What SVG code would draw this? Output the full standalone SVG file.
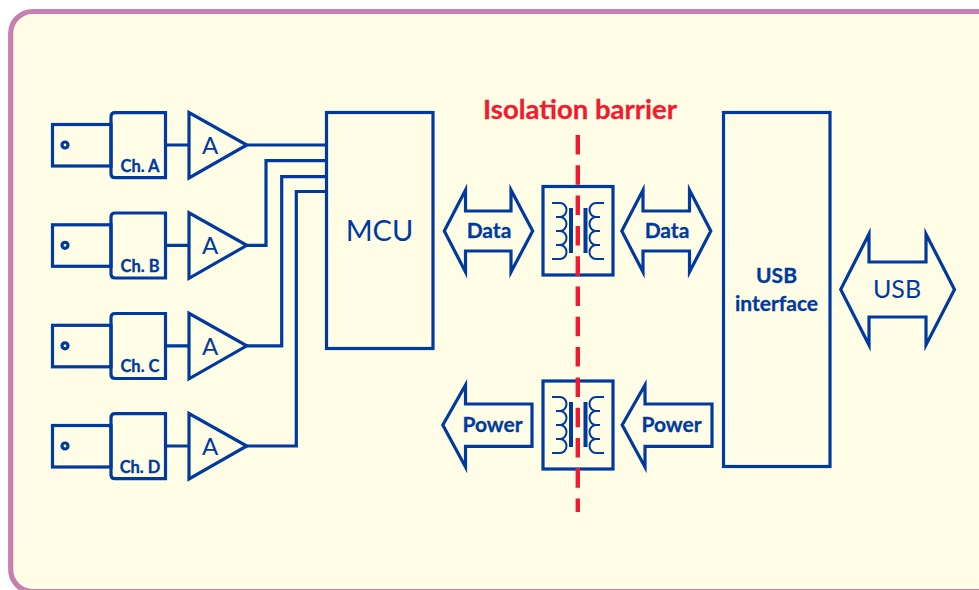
<svg xmlns="http://www.w3.org/2000/svg" width="979" height="590" viewBox="0 0 979 590">
<style>
.s{fill:none;stroke:#003a9e;stroke-width:3.2;stroke-linejoin:miter;stroke-miterlimit:12}
.c{fill:none;stroke:#003a9e;stroke-width:2}
.k{fill:none;stroke:#003a9e;stroke-width:4}
text{font-family:"Lato","Open Sans","Liberation Sans",sans-serif;fill:#003a9e;text-anchor:middle}
.ch{font-size:16.500px;font-weight:700;stroke:#003a9e;stroke-width:.3}
.lb{font-size:21px;font-weight:700;stroke:#003a9e;stroke-width:.3}
.am{font-size:24px}
</style>
<defs>
<g id="xf">
<path class="c" d="M552 203H560a6.500 7 0 0 1 0 14H556H560a6.500 7 0 0 1 0 14H556H560a6.500 7 0 0 1 0 14H556H560a6.500 7 0 0 1 0 14H552"/>
<path class="c" d="M604 203H596a6.500 7 0 0 0 0 14H600H596a6.500 7 0 0 0 0 14H600H596a6.500 7 0 0 0 0 14H600H596a6.500 7 0 0 0 0 14H604"/>
<path class="k" d="M571 208V253M585.500 208V253"/>
</g>
<g id="chan">
<rect class="s" x="52.500" y="124.500" width="58.500" height="41.500"/>
<path class="s" d="M115 112.700H165.500V177.700H115Q111 177.700 111 173.700V116.700Q111 112.700 115 112.700Z"/>
<circle class="s" cx="65" cy="145" r="3" stroke-width="2.600"/>
<path class="s" d="M189 112.500V178L246.800 145Z"/>
</g>
</defs>
<rect x="0" y="0" width="979" height="590" fill="#fff"/>
<rect id="panel" x="10.700" y="11.500" width="1010" height="580" rx="22" fill="#fffde5" stroke="#c67fae" stroke-width="5.200"/>
<g id="connectors">
<path class="s" d="M165.500 145H189M246.800 145H326.500"/>
<path class="s" d="M165.500 245.300H189M246.800 245.300H266V160.700H326.500"/>
<path class="s" d="M165.500 345.800H189M246.800 345.800H281.700V176.700H326.500"/>
<path class="s" d="M165.500 446H189M246.800 446H296.300V191.500H326.500"/>
</g>
<g id="ch-a"><use href="#chan"/><text class="ch" x="140" y="171.500">Ch. A</text></g>
<g id="amp-a"><text class="am" x="210" y="153.500">A</text></g>
<g id="ch-b"><use href="#chan" y="100.300"/><text class="ch" x="140" y="271.500">Ch. B</text></g>
<g id="amp-b"><text class="am" x="210" y="254">A</text></g>
<g id="ch-c"><use href="#chan" y="200.800"/><text class="ch" x="140" y="372">Ch. C</text></g>
<g id="amp-c"><text class="am" x="210" y="354.500">A</text></g>
<g id="ch-d"><use href="#chan" y="301"/><text class="ch" x="140" y="472.500">Ch. D</text></g>
<g id="amp-d"><text class="am" x="210" y="454.500">A</text></g>
<g id="mcu"><rect class="s" x="326.500" y="112.500" width="106.500" height="236"/><text x="379.500" y="241" font-size="29">MCU</text></g>
<g id="data-left"><path class="s" d="M444.300 231L465.500 190V211H511V190L532.700 231L511 272V251H465.500V272Z"/><text class="lb" x="489" y="238">Data</text></g>
<g id="xf-top"><rect class="s" x="543" y="186.500" width="70" height="88.500"/><use href="#xf"/></g>
<g id="data-right"><path class="s" d="M621.800 231L643 190V211H689.500V190L710.800 231L689.500 272V251H643V272Z"/><text class="lb" x="667" y="238">Data</text></g>
<g id="usb-if"><rect class="s" x="723.500" y="112.500" width="106.500" height="354"/><text class="lb" x="776.500" y="283">USB</text><text class="lb" x="776.500" y="311">interface</text></g>
<g id="usb"><path class="s" d="M840.700 289.500L869 234V262H926V234L954.500 289.500L926 345V317H869V345Z"/><text x="897" y="298" font-size="25">USB</text></g>
<g id="power-left"><path class="s" d="M442.800 425L465.500 385V404H532V446.300H465.500V467Z"/><text class="lb" x="492.500" y="432">Power</text></g>
<g id="xf-bottom"><rect class="s" x="543" y="381" width="70" height="88"/><use href="#xf" y="194"/></g>
<g id="power-right"><path class="s" d="M622.200 425L645 385V404H712V446.300H645V467Z"/><text class="lb" x="671.500" y="432">Power</text></g>
<g id="barrier">
<line x1="577.800" y1="135" x2="577.800" y2="512" stroke="#ee1c2e" stroke-width="4.400" stroke-dasharray="19.500 10.800"/>
<text x="580" y="119" font-size="27.500" font-weight="700" style="fill:#ee1c2e;stroke:#ee1c2e;stroke-width:.3">Isolation barrier</text>
</g>
</svg>
